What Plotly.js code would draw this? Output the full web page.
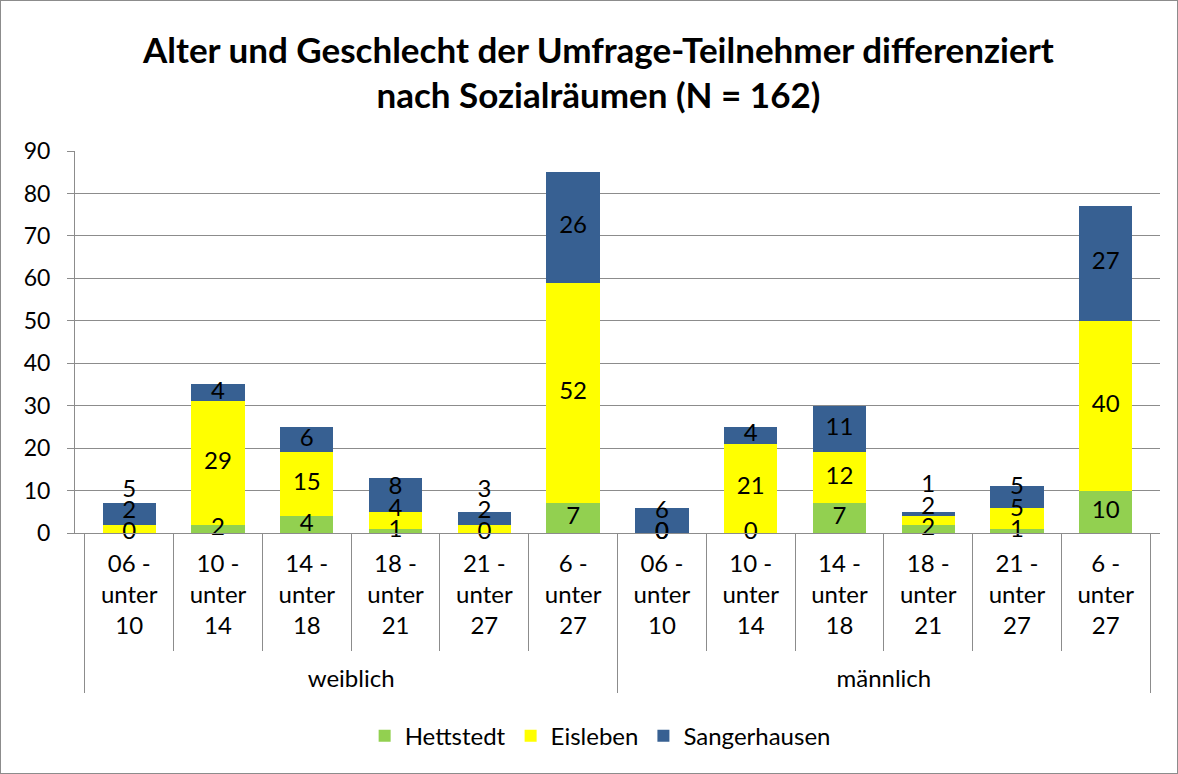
<!DOCTYPE html>
<html>
<head>
<meta charset="utf-8">
<script src="https://cdn.plot.ly/plotly-3.0.1.min.js"></script>
<style>
html,body{margin:0;padding:0;background:#fff;}
#chart{width:1176px;height:772px;border:1px solid #8c8c8c;}
</style>
</head>
<body>
<div id="chart"></div>
<script>
// ---- data ----
var genders = ["weiblich", "männlich"];
var ageGroups = ["06 - unter 10", "10 - unter 14", "14 - unter 18", "18 - unter 21", "21 - unter 27", "6 - unter 27"];
var seriesNames = ["Hettstedt", "Eisleben", "Sangerhausen"];
var hettstedt    = [0, 2, 4, 1, 0, 7,   0, 0, 7, 2, 1, 10];
var eisleben     = [2, 29, 15, 4, 2, 52, 0, 21, 12, 2, 5, 40];
var sangerhausen = [5, 4, 6, 8, 3, 26,  6, 4, 11, 1, 5, 27];
var seriesColors = ["#92D050", "#FFFF00", "#376092"];

// ---- build ----
var outer = [], inner = [];
genders.forEach(function(g){
  ageGroups.forEach(function(a){
    outer.push("<br>" + g);
    inner.push(a.replace(" unter ", "<br>unter<br>"));
  });
});
var xcats = [outer, inner];
var series = [hettstedt, eisleben, sangerhausen];

var traces = series.map(function(vals, i){
  return {
    type: "bar", name: seriesNames[i], x: xcats, y: vals,
    marker: {color: seriesColors[i], line: {width: 0}},
    hoverinfo: "skip"
  };
});

// data labels at segment centers with simple collision nudge
var lx0 = [], lx1 = [], ly = [], lt = [];
var minGap = 5;
for (var j = 0; j < outer.length; j++) {
  var base = 0, prev = null;
  for (var i = 0; i < series.length; i++) {
    var v = series[i][j];
    var c = base + v / 2;
    if (v > 0 && prev !== null) c = Math.max(c, prev + minGap);
    lx0.push(outer[j]); lx1.push(inner[j]); ly.push(c); lt.push(String(v));
    prev = c;
    base += v;
  }
}
traces.push({
  type: "scatter", mode: "text", x: [lx0, lx1], y: ly, text: lt,
  textposition: "middle center", cliponaxis: false, showlegend: false,
  textfont: {family: "Lato, 'Noto Sans', sans-serif", size: 24, color: "#000"},
  hoverinfo: "skip"
});

var gridCol = "#8c8c8c";
var layout = {
  width: 1176, height: 772,
  margin: {l: 74, r: 17, t: 150, b: 240},
  paper_bgcolor: "#fff", plot_bgcolor: "#fff",
  barmode: "stack", bargap: 0.4,
  font: {family: "Lato, 'Noto Sans', sans-serif", size: 23, color: "#000"},
  title: {
    text: "<b>Alter und Geschlecht der Umfrage-Teilnehmer differenziert<br>nach Sozialräumen (N = 162)</b>",
    font: {family: "Lato, 'Noto Sans', sans-serif", size: 35, color: "#000"},
    x: 0.508, xanchor: "center", y: 0.92, yanchor: "top"
  },
  xaxis: {
    type: "multicategory",
    showline: true, linecolor: gridCol, linewidth: 1,
    ticks: "outside", tickson: "boundaries", ticklen: 117, tickcolor: gridCol,
    showdividers: true, dividercolor: gridCol, dividerwidth: 1,
    tickfont: {size: 24, color: "#000"}, ticklabelstandoff: 9,
    showgrid: false, fixedrange: true
  },
  yaxis: {
    range: [0, 90], dtick: 10, tick0: 0,
    showgrid: true, gridcolor: gridCol, gridwidth: 1,
    showline: true, linecolor: gridCol, linewidth: 1,
    ticks: "outside", ticklen: 7, tickcolor: gridCol,
    tickfont: {size: 23, color: "#000"}, ticklabelstandoff: 12,
    zeroline: false, fixedrange: true
  },
  showlegend: true,
  legend: {
    orientation: "h", x: 0.484, xanchor: "center", y: -0.532, yanchor: "middle",
    font: {size: 24, color: "#000"}, traceorder: "normal"
  },
  hovermode: false
};

Plotly.newPlot("chart", traces, layout, {displayModeBar: false, staticPlot: true});
</script>
</body>
</html>
